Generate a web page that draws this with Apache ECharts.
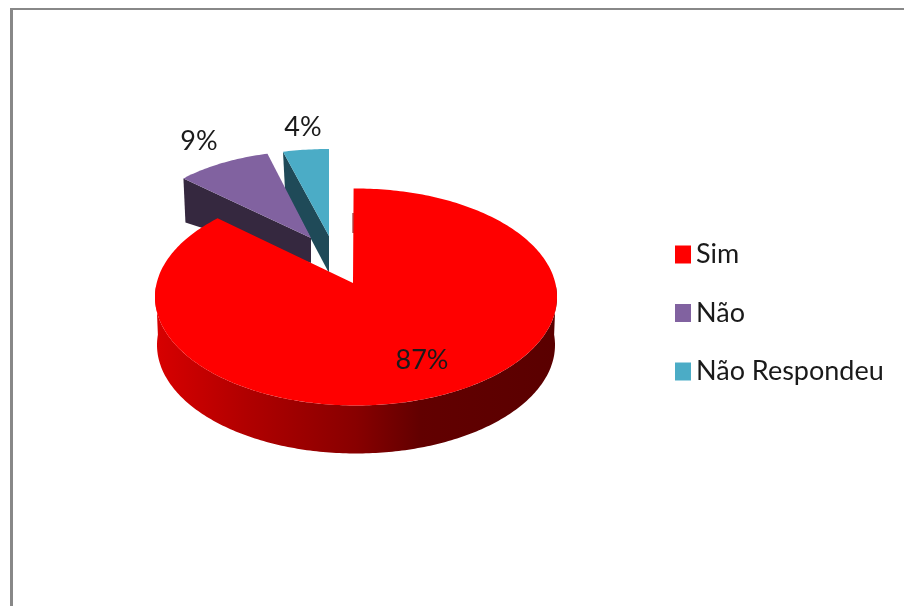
<!DOCTYPE html>
<html><head><meta charset="utf-8">
<script src="https://cdn.jsdelivr.net/npm/echarts@6/dist/echarts.min.js"></script>
<style>html,body{margin:0;padding:0;background:#fff}#c{width:904px;height:606px}</style>
</head><body><div id="c"></div>
<script>
const categories = ['Sim', 'Não', 'Não Respondeu'];
const values = [87, 9, 4];
const topColors = ['#ff0000', '#8162a0', '#4bacc6'];
const faceColors = ['#5a0000', '#35283f', '#1f4a58'];

const total = values.reduce((a, b) => a + b, 0);
// Perspective layout of each exploded wedge: apex, arc centre, radii, wall depths,
// and small angular corrections for the foreshortening of the 3D view
const layout = [
  {ax:353, ay:283, cx:356, cy:297, rx:201, ry:108.5, startWarp:-0.012, endWarp:0.057, label:[422,360]},
  {ax:311, ay:238, cx:311, cy:238, rx:175, ry:87, startWarp:0, endWarp:0, outer:44, inner:25, label:[199,141]},
  {ax:329, ay:236, cx:329, cy:236, rx:185, ry:87, startWarp:0, endWarp:0, outer:38, inner:37, label:[303,127]}
];
const FONT = 'Lato, "Open Sans", sans-serif';

function arc(l, from, to, dy, shrink) {
  const pts = [], n = Math.max(8, Math.ceil((to - from) * 60));
  for (let i = 0; i <= n; i++) {
    const t = from + (to - from) * i / n;
    pts.push([l.cx + (l.rx - (shrink||0)) * Math.sin(t), l.cy + (dy||0) - l.ry * Math.cos(t)]);
  }
  return pts;
}
function renderer(idx) {
  return function () {
    const TAU = Math.PI * 2;
    const before = values.slice(0, idx).reduce((a, b) => a + b, 0);
    const l = layout[idx], children = [];
    const from = before / total * TAU + l.startWarp;
    const to = (before + values[idx]) / total * TAU + l.endWarp;
    if (idx === 0) {
      const depth = 48;
      const a = arc(l, Math.PI * 0.47, Math.PI * 1.53);
      const b = arc(l, Math.PI * 0.47, Math.PI * 1.53, depth, 2).reverse();
      children.push({type:'polygon', shape:{points:a.concat(b)}, style:{
        fill:{type:'linear', x:0, y:0, x2:1, y2:0, colorStops:[
          {offset:0, color:'#d80000'},{offset:0.23, color:'#b00000'},
          {offset:0.5, color:'#880000'},{offset:0.66, color:'#620000'},{offset:1, color:faceColors[0]}]}}});
      children.push({type:'line', shape:{x1:l.ax, y1:l.ay - 70, x2:l.ax, y2:l.ay - 50},
        style:{stroke:'#8b0000', lineWidth:1}, z2:5});
    } else {
      const o = arc(l, from, from)[0];
      const face = [o, [l.ax, l.ay], [l.ax, l.ay + l.inner], [o[0] + 2, o[1] + l.outer]];
      children.push({type:'polygon', shape:{points:face}, style:{fill:faceColors[idx]}});
    }
    children.push({type:'polygon', shape:{points:[[l.ax, l.ay]].concat(arc(l, from, to))}, style:{fill:topColors[idx]}});
    children.push({type:'text', style:{text:Math.round(values[idx] / total * 100) + '%',
      x:l.label[0], y:l.label[1], align:'center', verticalAlign:'middle',
      font:'27px ' + FONT, fill:'#1a1a1a'}, z2:10});
    return {type:'group', children};
  };
}
const chart = echarts.init(document.getElementById('c'), null, {renderer:'canvas'});
chart.setOption({
  animation:false,
  backgroundColor:'#fff',
  graphic:[
    {type:'rect', shape:{x:10, y:8, width:894, height:2}, style:{fill:'#888888'}},
    {type:'rect', shape:{x:10, y:8, width:3, height:598}, style:{fill:'#888888'}}
  ],
  legend:{
    orient:'vertical', left:675, top:241, padding:0, icon:'rect', itemWidth:16, itemHeight:18,
    itemGap:31.5, selectedMode:false, data:categories,
    textStyle:{fontFamily:FONT, fontSize:27, color:'#1a1a1a'}
  },
  series:categories.map((name, i) => ({
    type:'custom', name, coordinateSystem:'none', z:4 - i, silent:true,
    itemStyle:{color:topColors[i]}, data:[values[i]], renderItem:renderer(i)
  }))
});
</script></body></html>
